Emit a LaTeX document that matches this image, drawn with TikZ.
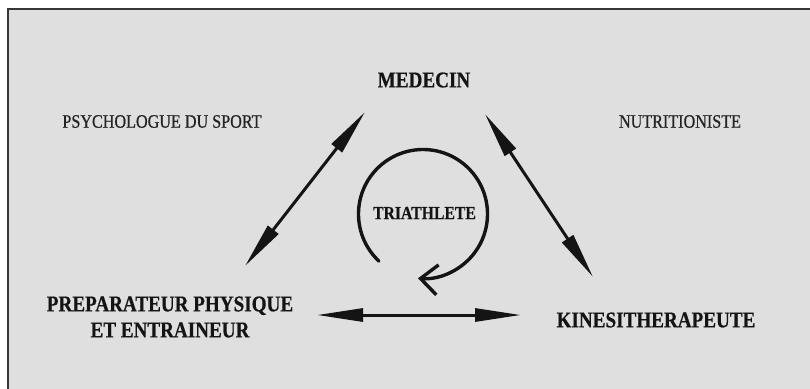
\documentclass[tikz,border=0pt]{standalone}
\usepackage{fontspec}
\setmainfont{Liberation Serif}[FakeStretch=0.85]
\newfontfamily\medfont{Liberation Serif}[FakeStretch=0.85, FakeBold=0.6]
\newfontfamily\heavyfont{Liberation Serif}[FakeStretch=0.85, BoldFeatures={FakeBold=0.5}]
\usetikzlibrary{arrows.meta}
\definecolor{bg}{RGB}{223,223,223}
\definecolor{ink}{RGB}{20,20,20}
\definecolor{soft}{RGB}{35,35,35}
\begin{document}
\begin{tikzpicture}[x=1pt,y=-1pt,
  role/.style={font=\fontsize{22.5}{26}\selectfont\heavyfont\bfseries, text=ink, inner sep=0pt, align=center},
  small/.style={font=\fontsize{19}{22}\selectfont\medfont, text=soft, inner sep=0pt},
  centre/.style={font=\fontsize{18.5}{22}\selectfont\heavyfont\bfseries, text=ink, inner sep=0pt},
  link/.style={line width=3pt, draw=ink,
    {Triangle[length=46pt,width=13pt]}-{Triangle[length=46pt,width=13pt]}},
  loop/.style={line width=3.4pt, draw=ink, line cap=round,
    -{Straight Barb[length=17pt,width=30pt,line width=3.4pt]}}
]
\useasboundingbox (0,0) rectangle (810,388);
\fill[white] (0,0) rectangle (810,388);
\draw[fill=bg, draw=ink!85, line width=2pt] (8,9) rectangle (830,410);

\node[role] (med) at (424,80) {MEDECIN};
\node[small] (psy) at (162,121.5) {PSYCHOLOGUE DU SPORT};
\node[small] (nut) at (680,121.5) {NUTRITIONISTE};
\node[centre] (tri) at (424.5,213) {TRIATHLETE};
\node[role] (prep) at (170,317) {PREPARATEUR PHYSIQUE\\ET ENTRAINEUR};
\node[role] (kine) at (656,320) {KINESITHERAPEUTE};

\coordinate (a1) at (245,266);
\coordinate (a2) at (365,112);
\coordinate (b1) at (485,114);
\coordinate (b2) at (593,277);
\coordinate (c1) at (317,315);
\coordinate (c2) at (521,315);
\coordinate (hub) at (423,214);

\draw[link] (a1) -- (a2);
\draw[link] (b1) -- (b2);
\draw[link] (c1) -- (c2);

\draw[loop] (hub) ++(227:64.5pt) arc[start angle=227, end angle=-94.5, radius=64.5pt];
\end{tikzpicture}
\end{document}
